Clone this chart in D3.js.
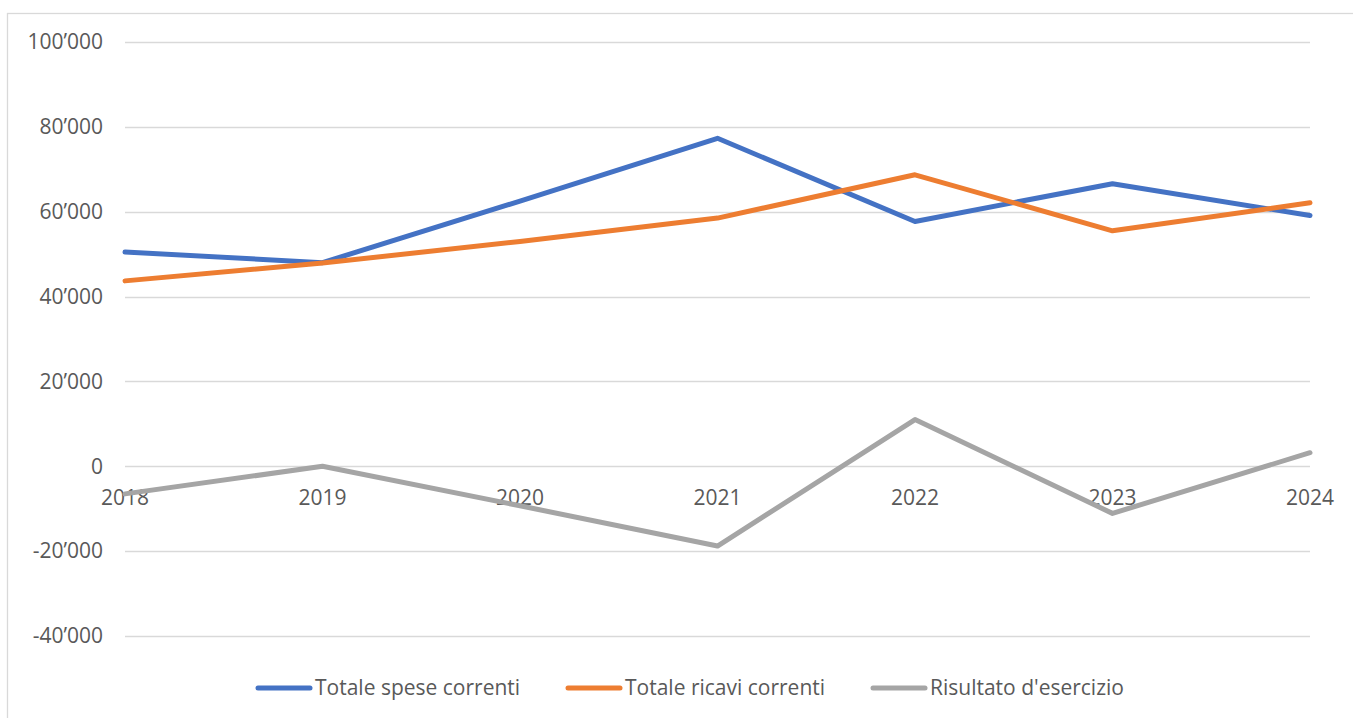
<!DOCTYPE html>
<html lang="it">
<head>
<meta charset="UTF-8">
<title>Spese e ricavi correnti</title>
<style>
  body { margin: 0; background: #fff; }
  svg { display: block; font-family: "Open Sans", "Noto Sans", sans-serif; }
  .grid line { stroke: #d9d9d9; stroke-width: 1.3; }
  .tick-label { fill: #595959; font-size: 21px; }
  .legend-label { fill: #595959; font-size: 21px; }
</style>
</head>
<body>
<svg width="1353" height="718"></svg>
<script src="https://d3js.org/d3.v7.min.js"></script>
<script>
// data
const years = ["2018", "2019", "2020", "2021", "2022", "2023", "2024"];
const speseCorrenti = [50500, 48000, 62500, 77300, 57700, 66600, 59100];
const ricaviCorrenti = [43700, 47900, 53000, 58500, 68700, 55500, 62100];
const risultato = [-6500, 0, -9300, -18800, 11000, -11100, 3200];
const yTicks = [-40000, -20000, 0, 20000, 40000, 60000, 80000, 100000];
const seriesNames = ["Totale spese correnti", "Totale ricavi correnti", "Risultato d'esercizio"];
const seriesColors = ["#4472c4", "#ed7d31", "#a5a5a5"];

const svg = d3.select("svg");

// chart frame
svg.append("rect")
  .attr("x", 7.5).attr("y", 13.5)
  .attr("width", 1400).attr("height", 800)
  .attr("fill", "none").attr("stroke", "#d9d9d9").attr("stroke-width", 1.3);

const x = d3.scalePoint().domain(years).range([125, 1310]);
const y = d3.scaleLinear().domain([-40000, 100000]).range([636, 42]);

// horizontal gridlines
svg.append("g").attr("class", "grid")
  .selectAll("line")
  .data(yTicks)
  .join("line")
  .attr("x1", 125).attr("x2", 1310)
  .attr("y1", d => Math.round(y(d)) + 0.5)
  .attr("y2", d => Math.round(y(d)) + 0.5);

// y labels, with the swiss thousands separator and a plain hyphen
const fmt = d => d3.format(",")(d).replace(/,/g, "\u2019").replace("\u2212", "-");
svg.append("g")
  .selectAll("text")
  .data(yTicks)
  .join("text")
  .attr("class", "tick-label")
  .attr("x", 103)
  .attr("y", d => y(d))
  .attr("dy", "0.35em")
  .attr("text-anchor", "end")
  .text(fmt);

// category labels sit just below the zero line
svg.append("g")
  .selectAll("text")
  .data(years)
  .join("text")
  .attr("class", "tick-label")
  .attr("x", d => x(d))
  .attr("y", y(0) + 31)
  .attr("dy", "0.35em")
  .attr("text-anchor", "middle")
  .text(d => d);

// lines
const allSeries = [speseCorrenti, ricaviCorrenti, risultato];
const line = d3.line()
  .x((d, i) => x(years[i]))
  .y(d => y(d));

svg.append("g")
  .selectAll("path")
  .data(allSeries)
  .join("path")
  .attr("d", line)
  .attr("fill", "none")
  .attr("stroke", (d, i) => seriesColors[i])
  .attr("stroke-width", 5)
  .attr("stroke-linejoin", "round")
  .attr("stroke-linecap", "round");

// legend
const legendX = [258, 568, 873];
const legend = svg.append("g")
  .selectAll("g")
  .data(seriesNames)
  .join("g")
  .attr("transform", (d, i) => `translate(${legendX[i]},688)`);

legend.append("line")
  .attr("x1", 0).attr("x2", 52)
  .attr("stroke", (d, i) => seriesColors[i])
  .attr("stroke-width", 5)
  .attr("stroke-linecap", "round");

legend.append("text")
  .attr("class", "legend-label")
  .attr("x", 57)
  .attr("dy", "0.35em")
  .text(d => d);
</script>
</body>
</html>
